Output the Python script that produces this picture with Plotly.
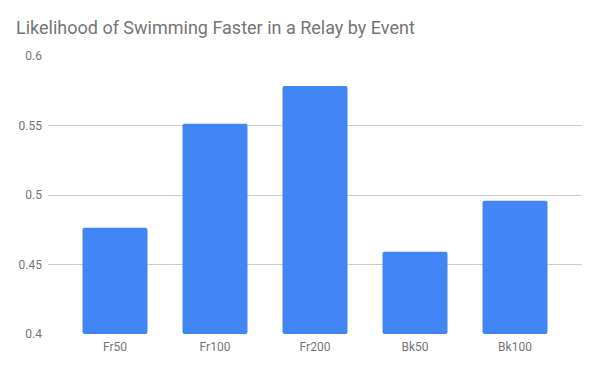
import plotly.graph_objects as go

events = ["Fr50", "Fr100", "Fr200", "Bk50", "Bk100"]
likelihood = [0.4765, 0.5512, 0.5785, 0.4592, 0.4959]
baseline = 0.4
y_ticks = [0.4, 0.45, 0.5, 0.55, 0.6]
y_tick_labels = ["0.4", "0.45", "0.5", "0.55", "0.6"]

fig = go.Figure(
    go.Bar(
        x=events,
        y=[v - baseline for v in likelihood],
        base=baseline,
        width=0.65,
        marker=dict(color="#4285f4", line=dict(width=0), cornerradius=2),
    )
)

fig.update_layout(
    width=600,
    height=371,
    margin=dict(l=48, r=18, t=56, b=37),
    paper_bgcolor="white",
    plot_bgcolor="white",
    showlegend=False,
    font=dict(family="Roboto", color="#757575", size=12),
    title=dict(
        text="Likelihood of Swimming Faster in a Relay by Event",
        font=dict(family="Roboto", size=18, color="#757575"),
        x=16 / 600,
        xanchor="left",
        xref="container",
        y=1 - 28 / 371,
        yanchor="middle",
        yref="container",
    ),
    xaxis=dict(
        range=[-0.67, 4.67],
        showgrid=False,
        showline=False,
        ticks="",
        tickfont=dict(size=12, color="#757575"),
        ticklabelstandoff=4,
    ),
    yaxis=dict(
        range=[0.4, 0.6],
        tickvals=y_ticks,
        ticktext=y_tick_labels,
        showgrid=True,
        gridcolor="#cccccc",
        gridwidth=1,
        zeroline=False,
        showline=False,
        ticks="",
        tickfont=dict(size=12, color="#757575"),
        ticklabelstandoff=5,
    ),
)

fig.write_html(
    "out.html",
    config={"displayModeBar": False},
    post_script="document.body.style.margin='0';",
)
